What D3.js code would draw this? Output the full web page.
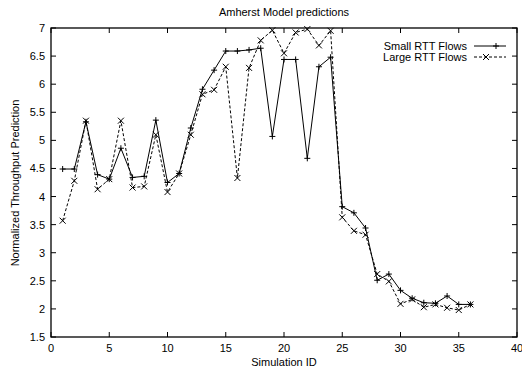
<!DOCTYPE html>
<html><head><meta charset="utf-8">
<script src="https://cdn.jsdelivr.net/npm/d3@7"></script>
<style>
body{margin:0;background:#fff;}
text{font-family:"Liberation Sans",Arial,sans-serif;font-size:11px;fill:#000;}
</style></head>
<body><svg id="c" width="522" height="373"></svg>
<script>
const simIds = d3.range(1, 37);
const smallRTT = [4.49,4.49,5.33,4.39,4.31,4.86,4.34,4.36,5.36,4.25,4.41,5.22,5.91,6.25,6.59,6.59,6.61,6.64,5.07,6.44,6.44,4.68,6.31,6.48,3.82,3.71,3.44,2.51,2.62,2.33,2.19,2.11,2.10,2.23,2.08,2.08];
const largeRTT = [3.57,4.28,5.35,4.13,4.31,5.35,4.16,4.18,5.10,4.08,4.41,5.10,5.82,5.90,6.31,4.33,6.29,6.78,6.96,6.55,6.92,6.98,6.69,6.95,3.63,3.39,3.32,2.62,2.49,2.09,2.17,2.03,2.08,2.02,1.98,2.08];
const xTicks = [0,5,10,15,20,25,30,35,40];
const yTicks = [1.5,2,2.5,3,3.5,4,4.5,5,5.5,6,6.5,7];
const seriesNames = ["Small RTT Flows","Large RTT Flows"];

const svg = d3.select("#c");
const L = 51, R = 517, T = 28, B = 337;
const x = d3.scaleLinear().domain([0,40]).range([L,R]);
const y = d3.scaleLinear().domain([1.5,7]).range([B,T]);

// ticks (inside, mirrored)
const tl = 5;
const ax = svg.append("g").attr("stroke","#000").attr("stroke-width",1);
xTicks.forEach(t=>{
  ax.append("line").attr("x1",x(t)).attr("x2",x(t)).attr("y1",B).attr("y2",B-tl);
  ax.append("line").attr("x1",x(t)).attr("x2",x(t)).attr("y1",T).attr("y2",T+tl);
});
yTicks.forEach(t=>{
  ax.append("line").attr("x1",L).attr("x2",L+tl).attr("y1",y(t)).attr("y2",y(t));
  ax.append("line").attr("x1",R).attr("x2",R-tl).attr("y1",y(t)).attr("y2",y(t));
});
svg.append("rect").attr("x",L).attr("y",T).attr("width",R-L).attr("height",B-T)
  .attr("fill","none").attr("stroke","#000").attr("stroke-width",1.3);

svg.append("g").selectAll("text").data(xTicks).join("text")
  .attr("x",d=>x(d)).attr("y",B+15).attr("text-anchor","middle").text(d=>d);
svg.append("g").selectAll("text").data(yTicks).join("text")
  .attr("x",L-6).attr("y",d=>y(d)+4).attr("text-anchor","end").text(d=>d);

svg.append("text").attr("x",284).attr("y",16).attr("text-anchor","middle").text("Amherst Model predictions");
svg.append("text").attr("x",284).attr("y",366).attr("text-anchor","middle").text("Simulation ID");
svg.append("text").attr("transform","translate(19,183) rotate(-90)").attr("text-anchor","middle").text("Normalized Throughput Prediction");

const line = d3.line().x((d,i)=>x(simIds[i])).y(d=>y(d));
function plus(g,cx,cy){g.append("path").attr("d",`M${cx-3},${cy}H${cx+3}M${cx},${cy-3}V${cy+3}`).attr("stroke","#000").attr("stroke-width",1);}
function cross(g,cx,cy){g.append("path").attr("d",`M${cx-3},${cy-3}L${cx+3},${cy+3}M${cx-3},${cy+3}L${cx+3},${cy-3}`).attr("stroke","#000").attr("stroke-width",1);}

svg.append("path").datum(smallRTT).attr("d",line).attr("fill","none").attr("stroke","#000").attr("stroke-width",1);
svg.append("path").datum(largeRTT).attr("d",line).attr("fill","none").attr("stroke","#000").attr("stroke-width",1).attr("stroke-dasharray","3,2");
const mk = svg.append("g");
smallRTT.forEach((v,i)=>plus(mk,x(simIds[i]),y(v)));
largeRTT.forEach((v,i)=>cross(mk,x(simIds[i]),y(v)));

// legend
const lg = svg.append("g");
[0,1].forEach(k=>{
  const ly = 46 + k*11;
  lg.append("text").attr("x",467).attr("y",ly+4).attr("text-anchor","end").text(seriesNames[k]);
  const l = lg.append("line").attr("x1",474).attr("x2",506).attr("y1",ly).attr("y2",ly).attr("stroke","#000").attr("stroke-width",1);
  if(k===1) l.attr("stroke-dasharray","3,2");
  if(k===0) plus(lg,496,ly); else cross(lg,486,ly);
});
</script></body></html>
